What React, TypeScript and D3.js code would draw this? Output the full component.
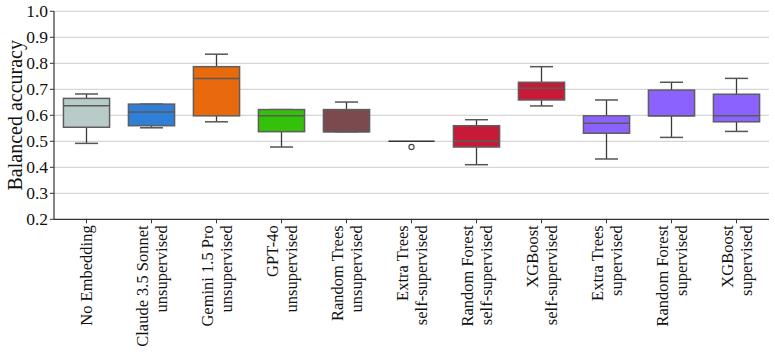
import React from "react";
import * as d3 from "d3";

const categories = [
  "No Embedding",
  "Claude 3.5 Sonnet unsupervised",
  "Gemini 1.5 Pro unsupervised",
  "GPT-4o unsupervised",
  "Random Trees unsupervised",
  "Extra Trees self-supervised",
  "Random Forest self-supervised",
  "XGBoost self-supervised",
  "Extra Trees supervised",
  "Random Forest supervised",
  "XGBoost supervised",
];
const labelLine1 = [
  "No Embedding",
  "Claude 3.5 Sonnet",
  "Gemini 1.5 Pro",
  "GPT-4o",
  "Random Trees",
  "Extra Trees",
  "Random Forest",
  "XGBoost",
  "Extra Trees",
  "Random Forest",
  "XGBoost",
];
const labelLine2 = [
  "",
  "unsupervised",
  "unsupervised",
  "unsupervised",
  "unsupervised",
  "self-supervised",
  "self-supervised",
  "self-supervised",
  "supervised",
  "supervised",
  "supervised",
];
const whiskerLow = [0.492, 0.552, 0.575, 0.478, 0.537, 0.5, 0.41, 0.636, 0.432, 0.515, 0.538];
const q1 = [0.554, 0.56, 0.598, 0.537, 0.537, 0.5, 0.478, 0.659, 0.531, 0.598, 0.575];
const median = [0.637, 0.613, 0.742, 0.598, 0.537, 0.5, 0.5, 0.704, 0.569, 0.598, 0.598];
const q3 = [0.665, 0.643, 0.787, 0.622, 0.622, 0.5, 0.56, 0.727, 0.598, 0.697, 0.681];
const whiskerHigh = [0.682, 0.643, 0.835, 0.622, 0.651, 0.5, 0.583, 0.787, 0.659, 0.727, 0.742];
const outliers: number[][] = [[], [], [], [], [], [0.478], [], [], [], [], []];
const colors = [
  "#b9cbc9",
  "#2f7fd8",
  "#e96a0c",
  "#33c10a",
  "#7b4a4f",
  "#c81a36",
  "#c81a36",
  "#c81a36",
  "#8c62ff",
  "#8c62ff",
  "#8c62ff",
];
const yTicks = [0.2, 0.3, 0.4, 0.5, 0.6, 0.7, 0.8, 0.9, 1.0];

const W = 775;
const H = 354;
const left = 54;
const right = 769;
const top = 11.3;
const bottom = 219.3;
const font = "'Liberation Serif', 'Times New Roman', serif";

export default function App() {
  const x = d3.scaleBand<string>().domain(categories).range([left, right]).padding(0);
  const y = d3.scaleLinear().domain([0.2, 1.0]).range([bottom, top]);
  const bw = x.bandwidth() * 0.71;
  const cap = bw / 2;

  return (
    <div style={{ position: "absolute", left: 0, top: 0 }}>
      <svg width={W} height={H} style={{ display: "block", background: "#fff" }}>
        {yTicks.map((t) => (
          <g key={t}>
            {t > 0.2 && (
              <line x1={left} x2={right} y1={y(t)} y2={y(t)} stroke="#d6d6d6" strokeWidth={1.2} />
            )}
            <line x1={left - 4} x2={left} y1={y(t)} y2={y(t)} stroke="#333" strokeWidth={1} />
            <text
              x={left - 6}
              y={y(t)}
              textAnchor="end"
              dominantBaseline="central"
              fontFamily={font}
              fontSize={17.5}
              fill="#111"
            >
              {t.toFixed(1)}
            </text>
          </g>
        ))}
        <line x1={left} x2={left} y1={top} y2={bottom} stroke="#333" strokeWidth={1.2} />
        <line x1={left} x2={right} y1={bottom} y2={bottom} stroke="#333" strokeWidth={1.2} />
        <text
          transform={`translate(15,${(top + bottom) / 2}) rotate(-90)`}
          textAnchor="middle"
          dominantBaseline="central"
          fontFamily={font}
          fontSize={20}
          fill="#111"
        >
          Balanced accuracy
        </text>

        {categories.map((c, i) => {
          const cx = (x(c) as number) + x.bandwidth() / 2;
          const x0 = cx - bw / 2;
          const flat = q1[i] === q3[i];
          return (
            <g key={c}>
              <line x1={cx} x2={cx} y1={bottom} y2={bottom + 4} stroke="#333" strokeWidth={1} />
              {labelLine2[i] === "" ? (
                <text
                  transform={`translate(${cx},${bottom + 6}) rotate(-90)`}
                  textAnchor="end"
                  dominantBaseline="central"
                  fontFamily={font}
                  fontSize={16.5}
                  fill="#111"
                >
                  {labelLine1[i]}
                </text>
              ) : (
                <g>
                  <text
                    transform={`translate(${cx - 9.5},${bottom + 6}) rotate(-90)`}
                    textAnchor="end"
                    dominantBaseline="central"
                    fontFamily={font}
                    fontSize={16.5}
                    fill="#111"
                  >
                    {labelLine1[i]}
                  </text>
                  <text
                    transform={`translate(${cx + 9.5},${bottom + 6}) rotate(-90)`}
                    textAnchor="end"
                    dominantBaseline="central"
                    fontFamily={font}
                    fontSize={16.5}
                    fill="#111"
                  >
                    {labelLine2[i]}
                  </text>
                </g>
              )}
              {!flat && (
                <g>
                  <line x1={cx} x2={cx} y1={y(q3[i])} y2={y(whiskerHigh[i])} stroke="#3a3a3a" strokeWidth={1.3} />
                  <line x1={cx} x2={cx} y1={y(q1[i])} y2={y(whiskerLow[i])} stroke="#3a3a3a" strokeWidth={1.3} />
                  <line
                    x1={cx - cap / 2}
                    x2={cx + cap / 2}
                    y1={y(whiskerHigh[i])}
                    y2={y(whiskerHigh[i])}
                    stroke="#555"
                    strokeWidth={1.5}
                  />
                  <line
                    x1={cx - cap / 2}
                    x2={cx + cap / 2}
                    y1={y(whiskerLow[i])}
                    y2={y(whiskerLow[i])}
                    stroke="#555"
                    strokeWidth={1.5}
                  />
                  <rect
                    x={x0}
                    y={y(q3[i])}
                    width={bw}
                    height={y(q1[i]) - y(q3[i])}
                    fill={colors[i]}
                    stroke="#5e5e5e"
                    strokeWidth={1.5}
                  />
                </g>
              )}
              <line
                x1={x0}
                x2={x0 + bw}
                y1={y(median[i])}
                y2={y(median[i])}
                stroke={flat ? "#333" : "#5a5a5a"}
                strokeWidth={1.5}
              />
              {outliers[i].map((o, k) => (
                <circle key={k} cx={cx} cy={y(o)} r={2.6} fill="#fff" stroke="#444" strokeWidth={1.1} />
              ))}
            </g>
          );
        })}
      </svg>
    </div>
  );
}
